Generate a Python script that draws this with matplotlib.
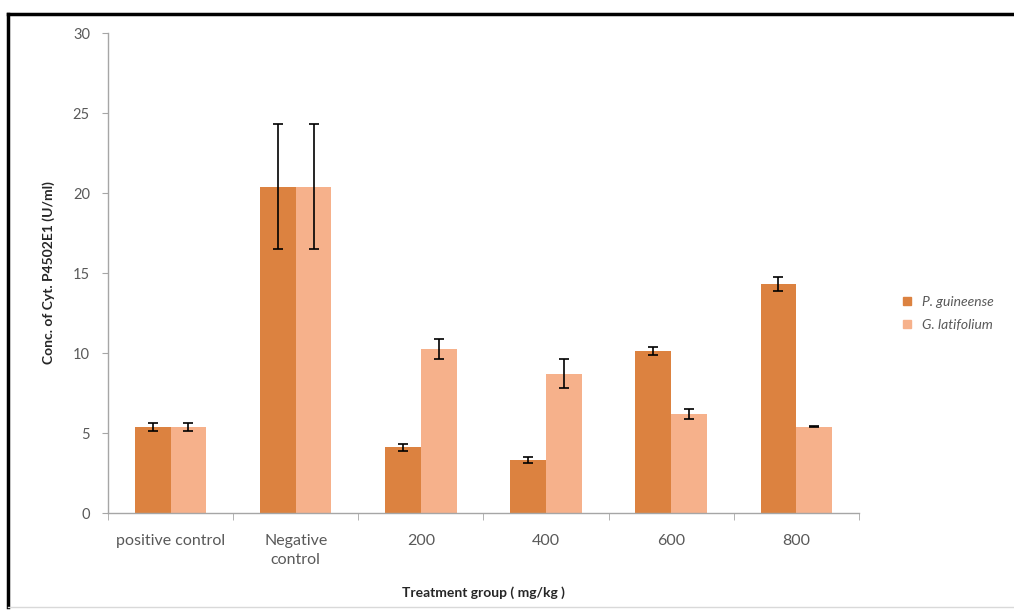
import matplotlib.pyplot as plt
import numpy as np
from matplotlib.lines import Line2D

groups = ["positive control", "Negative\ncontrol", "200", "400", "600", "800"]
p_guineense = [5.4, 20.4, 4.1, 3.3, 10.1, 14.3]
p_guineense_err = [0.25, 3.9, 0.2, 0.2, 0.25, 0.45]
g_latifolium = [5.4, 20.4, 10.25, 8.7, 6.2, 5.4]
g_latifolium_err = [0.25, 3.9, 0.6, 0.9, 0.3, 0.05]

dark = "#DC8240"
light = "#F6B18B"
grey = "#595959"

plt.rcParams["font.family"] = ["Lato", "DejaVu Sans"]

fig = plt.figure(figsize=(10.14, 6.16), dpi=100)
ax = fig.add_axes([0.1065, 0.1672, 0.7405, 0.7792])

x = np.arange(len(groups))
w = 0.285
err_kw = dict(ecolor="black", elinewidth=1.2, capsize=3.5, capthick=1.2)
ax.bar(x - w / 2, p_guineense, w, yerr=p_guineense_err, color=dark,
       error_kw=err_kw, label="P. guineense", zorder=2)
ax.bar(x + w / 2, g_latifolium, w, yerr=g_latifolium_err, color=light,
       error_kw=err_kw, label="G. latifolium", zorder=2)

ax.set_xlim(-0.5, len(groups) - 0.5)
ax.set_ylim(0, 30)
ax.set_yticks(range(0, 31, 5))
ax.set_xticks(x)
ax.set_xticklabels(groups, color=grey, fontsize=11.5, linespacing=1.5)
ax.set_xticks(np.arange(-0.5, len(groups)), minor=True)
ax.tick_params(axis="x", which="major", length=0, pad=15)
ax.tick_params(axis="x", which="minor", length=5, color="#A6A6A6", direction="out")
ax.tick_params(axis="y", length=4, color="#A6A6A6", labelcolor=grey, labelsize=10.5, pad=9)

for side in ["top", "right"]:
    ax.spines[side].set_visible(False)
for side in ["left", "bottom"]:
    ax.spines[side].set_color("#A6A6A6")
    ax.spines[side].set_linewidth(1)

ax.set_ylabel("Conc. of Cyt. P4502E1 (U/ml)", fontsize=10, fontweight="bold",
              color="#262626", labelpad=13)
ax.set_xlabel("Treatment group ( mg/kg )", fontsize=10, fontweight="bold",
              color="#262626", labelpad=14)

handles = [
    Line2D([], [], marker="s", linestyle="none", color=dark, markersize=6),
    Line2D([], [], marker="s", linestyle="none", color=light, markersize=6),
]
leg = fig.legend(handles, ["P. guineense", "G. latifolium"], loc="upper left",
                 bbox_to_anchor=(0.868, 0.54), frameon=False, handletextpad=0.1,
                 labelspacing=0.8, prop={"style": "italic", "size": 10})
for t in leg.get_texts():
    t.set_color(grey)

# outer frame
fig.add_artist(Line2D([0.008, 1.0], [0.977, 0.977], color="black", lw=2.5,
                      transform=fig.transFigure))
fig.add_artist(Line2D([0.008, 0.008], [0.015, 0.977], color="black", lw=2.5,
                      transform=fig.transFigure))
fig.add_artist(Line2D([0.008, 1.0], [0.015, 0.015], color="#D9D9D9", lw=1,
                      transform=fig.transFigure))

fig.savefig("out.png", dpi=100)
